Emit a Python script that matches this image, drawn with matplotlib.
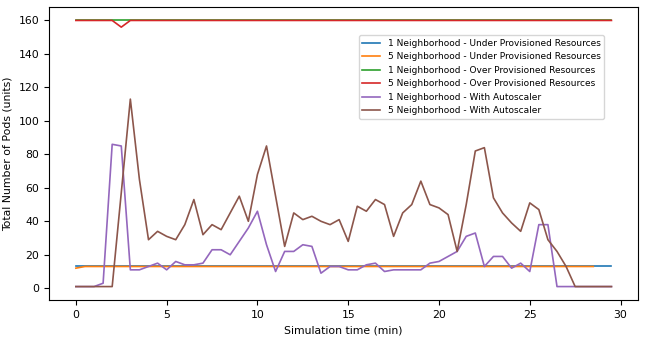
import numpy as np
import matplotlib
matplotlib.use("Agg")
import matplotlib.pyplot as plt

# simulation time, every 30 s
t_full = np.arange(0, 30, 0.5)  # 0 .. 29.5
t_orange = np.arange(0, 29, 0.5)  # 0 .. 28.5

under_1 = [13] * len(t_full)
under_5 = [12] + [13] * (len(t_orange) - 1)

over_1 = [160] * len(t_full)
over_5 = [160] * len(t_full)
over_5[5] = 156

auto_1 = [1, 1, 1, 3, 86, 85, 11, 11, 13, 15,
          11, 16, 14, 14, 15, 23, 23, 20, 28, 36,
          46, 26, 10, 22, 22, 26, 25, 9, 13, 13,
          11, 11, 14, 15, 10, 11, 11, 11, 11, 15,
          16, 19, 22, 31, 33, 13, 19, 19, 12, 15,
          10, 38, 38, 1, 1, 1, 1, 1, 1, 1]

auto_5 = [1, 1, 1, 1, 1, 57, 113, 65, 29, 34,
          31, 29, 38, 53, 32, 38, 35, 45, 55, 40,
          68, 85, 55, 25, 45, 41, 43, 40, 38, 41,
          28, 49, 46, 53, 50, 31, 45, 50, 64, 50,
          48, 44, 22, 50, 82, 84, 54, 45, 39, 34,
          51, 47, 29, 22, 13, 1, 1, 1, 1, 1]

plt.rcParams['font.size'] = 7.8
lw = 1.2

fig, ax = plt.subplots(figsize=(6.46, 3.40), dpi=100)
fig.subplots_adjust(left=0.076, right=0.988, top=0.979, bottom=0.118)

ax.plot(t_full, under_1, label='1 Neighborhood - Under Provisioned Resources', lw=lw)
ax.plot(t_orange, under_5, label='5 Neighborhood - Under Provisioned Resources', lw=lw)
ax.plot(t_full, over_1, label='1 Neighborhood - Over Provisioned Resources', lw=lw)
ax.plot(t_full, over_5, label='5 Neighborhood - Over Provisioned Resources', lw=lw)
ax.plot(t_full, auto_1, label='1 Neighborhood - With Autoscaler', lw=lw)
ax.plot(t_full, auto_5, label='5 Neighborhood - With Autoscaler', lw=lw)

ax.set_xlabel('Simulation time (min)')
ax.set_ylabel('Total Number of Pods (units)')
ax.set_yticks(range(0, 161, 20))

ax.legend(loc='upper right', bbox_to_anchor=(0.942, 0.904), borderaxespad=0,
          fontsize=6.5)

fig.savefig('out.png', dpi=100)
